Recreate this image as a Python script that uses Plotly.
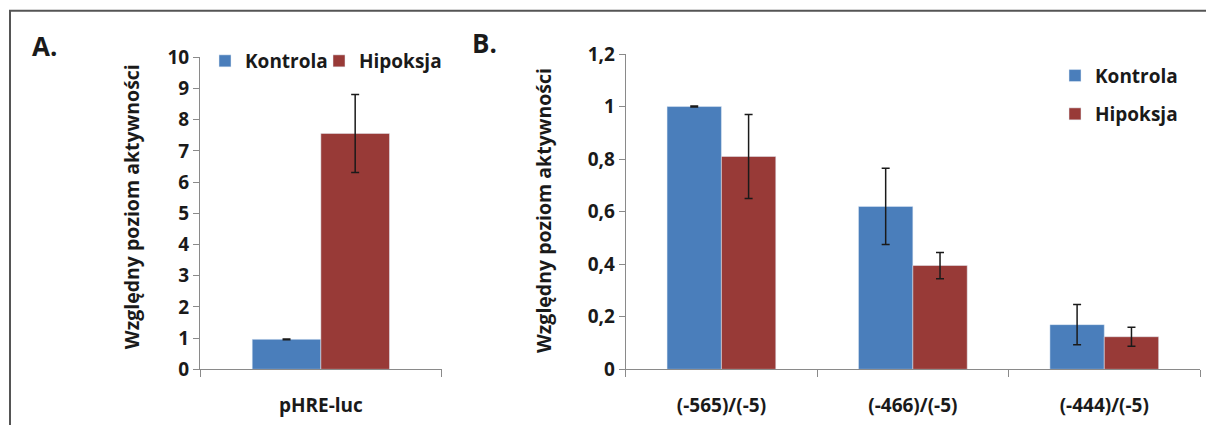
import plotly.graph_objects as go

# ---- data ----
series_names = ["Kontrola", "Hipoksja"]
colors = ["#4A7EBB", "#983A37"]

cat_a = ["pHRE-luc"]
a_kontrola = [0.96]
a_kontrola_err = [0.01]
a_hipoksja = [7.56]
a_hipoksja_err = [1.25]

cat_b = ["(-565)/(-5)", "(-466)/(-5)", "(-444)/(-5)"]
b_kontrola = [1.0, 0.62, 0.17]
b_kontrola_err = [0.002, 0.145, 0.077]
b_hipoksja = [0.81, 0.395, 0.124]
b_hipoksja_err = [0.16, 0.05, 0.036]

y_a_ticks = [0, 1, 2, 3, 4, 5, 6, 7, 8, 9, 10]
y_b_ticks = [0, 0.2, 0.4, 0.6, 0.8, 1.0, 1.2]
y_b_ticklabels = ["0", "0,2", "0,4", "0,6", "0,8", "1", "1,2"]
y_title = "Względny poziom aktywności"

W, H = 1206, 425
FONT = "Open Sans"
TXT = "#1a1a1a"
AX = "#8a8a8a"

def f(size):
    return dict(family=FONT, size=size, color=TXT, weight=700)

def err(vals):
    return dict(type="data", array=vals, visible=True, color="#1a1a1a", thickness=1.5, width=4)

fig = go.Figure()
# Panel A
fig.add_trace(go.Bar(x=cat_a, y=a_kontrola, name=series_names[0], marker_color=colors[0],
                     error_y=err(a_kontrola_err), xaxis="x", yaxis="y", legend="legend"))
fig.add_trace(go.Bar(x=cat_a, y=a_hipoksja, name=series_names[1], marker_color=colors[1],
                     error_y=err(a_hipoksja_err), xaxis="x", yaxis="y", legend="legend3"))
# Panel B
fig.add_trace(go.Bar(x=cat_b, y=b_kontrola, name=series_names[0], marker_color=colors[0],
                     error_y=err(b_kontrola_err), xaxis="x2", yaxis="y2", legend="legend2"))
fig.add_trace(go.Bar(x=cat_b, y=b_hipoksja, name=series_names[1], marker_color=colors[1],
                     error_y=err(b_hipoksja_err), xaxis="x2", yaxis="y2", legend="legend4"))

common_x = dict(type="category", showline=True, linecolor=AX, linewidth=1, ticks="outside",
                tickson="boundaries", ticklen=7, tickcolor=AX, tickfont=f(19),
                ticklabelstandoff=19, showgrid=False, zeroline=False, automargin=False)
common_y = dict(showline=True, linecolor=AX, linewidth=1, ticks="outside", ticklen=6,
                tickcolor=AX, tickfont=f(19), showgrid=False, zeroline=False,
                automargin=False)

def leg(xpx, ypx):
    return dict(orientation="v", x=xpx / W, xanchor="left", y=1 - ypx / H, yanchor="middle",
                font=f(19), bgcolor="rgba(0,0,0,0)", itemclick=False)

yb0 = 1 - 369.3 / H
fig.update_layout(
    width=W, height=H,
    margin=dict(l=0, r=0, t=0, b=0, autoexpand=False),
    paper_bgcolor="white", plot_bgcolor="white",
    barmode="group", bargap=0.432, bargroupgap=0,
    showlegend=True,
    xaxis=dict(domain=[200 / W, 441.7 / W], anchor="y", **common_x),
    yaxis=dict(domain=[yb0, 1 - 57.3 / H], anchor="x", range=[0, 10],
               tickvals=y_a_ticks, **common_y),
    xaxis2=dict(domain=[625.7 / W, 1200 / W], anchor="y2", **common_x),
    yaxis2=dict(domain=[yb0, 1 - 54 / H], anchor="x2", range=[0, 1.2],
                tickvals=y_b_ticks, ticktext=y_b_ticklabels, **common_y),
    legend=leg(205, 61),
    legend3=leg(319, 61),
    legend2=leg(1055, 75.7),
    legend4=leg(1055, 114),
    shapes=[dict(type="path", xref="paper", yref="paper",
                 path=f"M {10/W},-0.1 L {10/W},{1-10.7/H} L 1.02,{1-10.7/H}",
                 line=dict(color="#555555", width=2))],
    annotations=[
        dict(text="A.", x=30 / W, y=1 - 46 / H, xref="paper", yref="paper", xanchor="left",
             yanchor="middle", showarrow=False, font=f(26)),
        dict(text="B.", x=470 / W, y=1 - 43 / H, xref="paper", yref="paper", xanchor="left",
             yanchor="middle", showarrow=False, font=f(26)),
        dict(text=y_title, x=131.7 / W, y=1 - 206.5 / H, xref="paper", yref="paper",
             xanchor="center", yanchor="middle", textangle=-90, showarrow=False, font=f(19.5)),
        dict(text=y_title, x=543 / W, y=1 - 211 / H, xref="paper", yref="paper",
             xanchor="center", yanchor="middle", textangle=-90, showarrow=False, font=f(19.5)),
    ],
)

fig.write_html("out.html")
